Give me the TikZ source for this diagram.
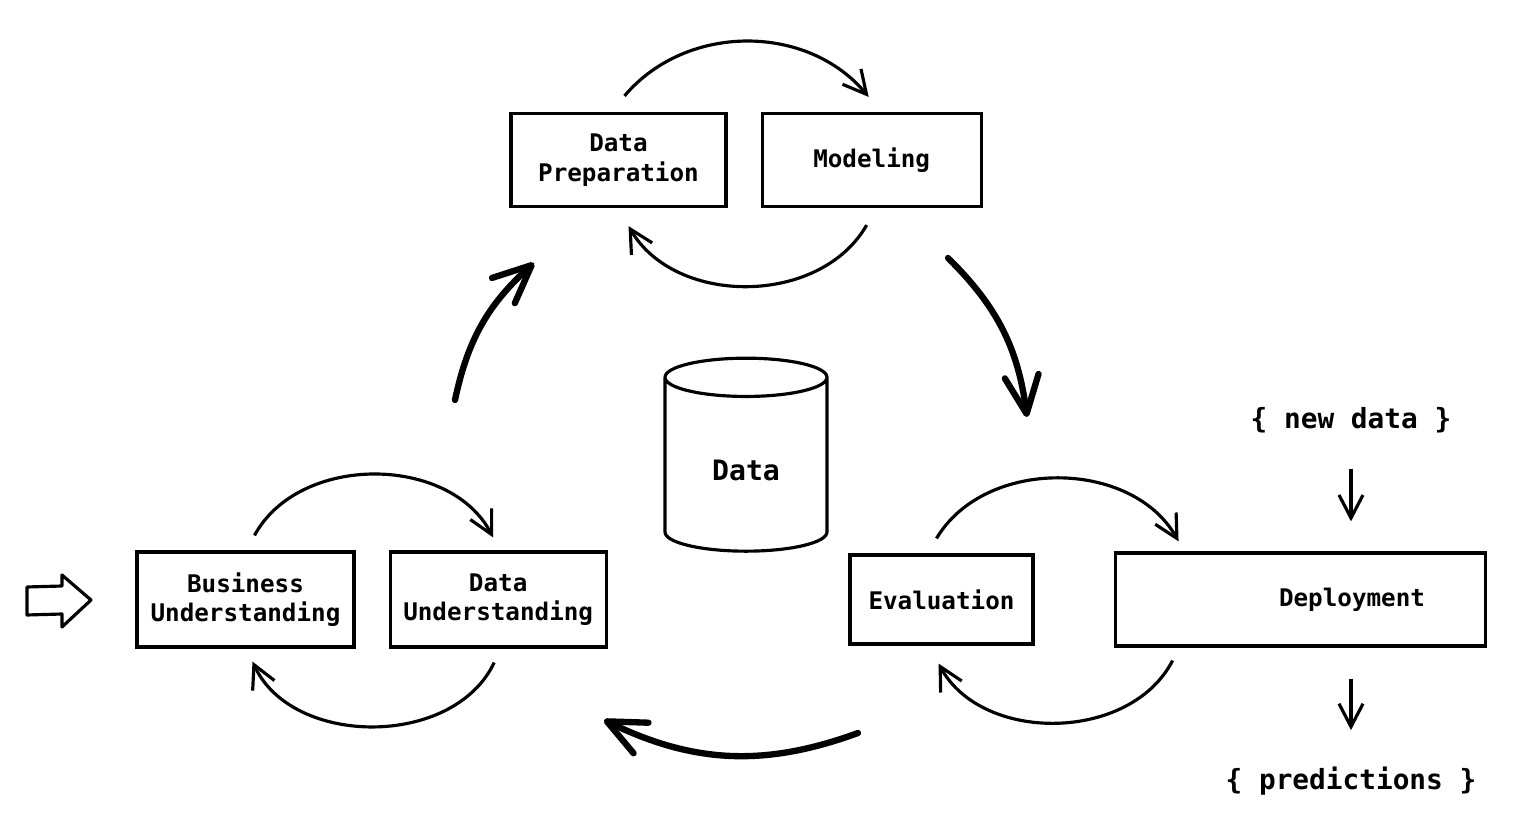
\documentclass[tikz,border=0pt]{standalone}
\usepackage{fontspec}
\setmainfont{DejaVu Sans Mono}
\usetikzlibrary{arrows.meta,positioning,shapes.geometric}

\begin{document}
\begin{tikzpicture}[
    node distance=0.33cm,
    stagetext/.style={font=\fontsize{6.9}{8.4}\selectfont\bfseries},
    stage/.style={rectangle, draw, line width=0.9pt, minimum height=0.93cm, align=center, stagetext},
    note/.style={inner sep=0pt, font=\fontsize{7.9}{9.5}\selectfont\bfseries},
    swirl/.style={-{Straight Barb[length=2.3mm, width=2.4mm]}, line width=0.9pt},
    bigarr/.style={-{Straight Barb[round, length=3.8mm, width=3.4mm]}, line width=1.8pt, line cap=round},
]
    \useasboundingbox (0,0) rectangle (15.29,-8.29);

    % Top pair
    \node[stage, minimum width=2.15cm] (prep) at (6.185,-1.60) {Data\\Preparation};
    \node[stage, minimum width=2.19cm, right=of prep] (model) {Modeling};

    % Left pair
    \node[stage, minimum width=2.17cm, minimum height=0.95cm] (bizund) at (2.455,-5.995) {Business\\Understanding};
    \node[stage, minimum width=2.16cm, minimum height=0.95cm, right=of bizund] (dataund) {Data\\Understanding};

    % Right pair
    \node[stage, minimum width=1.83cm, minimum height=0.89cm] (eval) at (9.415,-5.995) {Evaluation};
    \node[stage, minimum width=3.70cm, right=0.79cm of eval] (deploy) {};
    \node[stagetext] (deploytxt) at (13.52,-6.0) {Deployment};

    % Data store
    \node[draw, cylinder, shape border rotate=90, aspect=0.42, minimum height=1.93cm, minimum width=1.62cm,
          line width=0.9pt, font=\fontsize{8}{9}\selectfont\bfseries] (data) at (7.46,-4.70) {Data};

    % Entry arrow
    \draw[line width=0.9pt, line join=round] (0.27,-5.87) -- (0.62,-5.86) -- (0.62,-5.75) -- (0.91,-6.00)
        -- (0.62,-6.27) -- (0.62,-6.14) -- (0.27,-6.15) -- cycle;

    % Inner loops
    \draw[swirl] ([xshift=0.06cm,yshift=0.16cm]prep.north) to[bend left=50] ([xshift=-0.03cm,yshift=0.15cm]model.north);
    \draw[swirl] ([xshift=-0.05cm,yshift=-0.17cm]model.south) to[bend left=60] ([xshift=0.10cm,yshift=-0.18cm]prep.south);
    \draw[swirl] ([xshift=0.09cm,yshift=0.15cm]bizund.north) to[bend left=62] ([xshift=-0.05cm,yshift=0.13cm]dataund.north);
    \draw[swirl] ([xshift=-0.04cm,yshift=-0.14cm]dataund.south) to[bend left=65] ([xshift=0.07cm,yshift=-0.13cm]bizund.south);
    \draw[swirl] ([xshift=-0.05cm,yshift=0.15cm]eval.north) to[bend left=60] ([xshift=0.65cm,yshift=0.10cm]deploy.north west);
    \draw[swirl] ([xshift=0.59cm,yshift=-0.13cm]deploy.south west) to[bend left=62] ([xshift=-0.03cm,yshift=-0.18cm]eval.south);

    % Outer cycle
    \coordinate (undout) at (4.55,-4.00);
    \coordinate (prepin) at (5.34,-2.63);
    \coordinate (modout) at (9.48,-2.58);
    \coordinate (evalin) at (10.27,-4.17);
    \coordinate (evalout) at (8.58,-7.33);
    \coordinate (undin) at (6.04,-7.20);
    \draw[bigarr] (undout) to[bend left=18] (prepin);
    \draw[bigarr] (modout) to[bend left=19] (evalin);
    \draw[bigarr] (evalout) to[bend left=23] (undin);

    % Deployment in and out
    \node[note] (newdata) at (13.51,-4.20) {\{ new data \}};
    \node[note] (preds) at (13.51,-7.81) {\{ predictions \}};
    \draw[swirl, shorten <=0.35cm, shorten >=0.30cm] (newdata.south) -- (newdata.south |- deploy.north);
    \draw[swirl, shorten <=0.31cm, shorten >=0.36cm] (preds.north |- deploy.south) -- (preds.north);
\end{tikzpicture}
\end{document}
